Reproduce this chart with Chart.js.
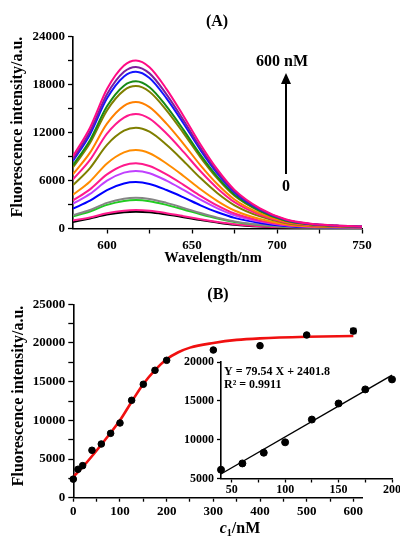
<!DOCTYPE html>
<html>
<head>
<meta charset="utf-8">
<script src="https://cdn.jsdelivr.net/npm/chart.js@4/dist/chart.umd.min.js"></script>
<style>
  html, body { margin: 0; padding: 0; background: #fff; overflow: hidden; width: 400px; height: 537px; }
  canvas { position: absolute; }
  #chartA { left: 0; top: 0; }
  #chartB { left: 0; top: 270px; }
  #inset { left: 140px; top: 340px; }
</style>
</head>
<body>
<canvas id="chartA" width="400" height="268"></canvas>
<canvas id="chartB" width="400" height="267"></canvas>
<canvas id="inset" width="270" height="160"></canvas>
<script>
/* ── DATA: panel A spectra ── */
const wavelengths = [580, 590, 600, 610, 617, 625, 635, 645, 655, 665, 675, 690, 705, 720, 735, 750];
const spec600 = [9030, 12600, 17430, 20370, 21000, 20160, 17430, 14070, 10500, 7350, 4830, 2520, 1160, 590, 380, 250];
const spec500 = [8690, 12120, 16770, 19590, 20200, 19390, 16770, 13530, 10100, 7070, 4650, 2420, 1110, 570, 360, 240];
const spec400 = [8430, 11760, 16270, 19010, 19600, 18820, 16270, 13130, 9800, 6860, 4510, 2350, 1080, 550, 350, 240];
const spec300 = [7910, 11040, 15270, 17850, 18400, 17660, 15270, 12330, 9200, 6440, 4230, 2210, 1010, 520, 330, 220];
const spec200 = [7650, 10680, 14770, 17270, 17800, 17090, 14770, 11930, 8900, 6230, 4090, 2140, 980, 500, 320, 210];
const spec175 = [6790, 9480, 13110, 15330, 15800, 15170, 13110, 10590, 7900, 5530, 3630, 1900, 870, 440, 280, 190];
const spec150 = [6150, 8580, 11870, 13870, 14300, 13730, 11870, 9580, 7150, 5010, 3290, 1720, 790, 400, 260, 170];
const spec125 = [5420, 7560, 10460, 12220, 12600, 12100, 10460, 8440, 6300, 4410, 2900, 1510, 690, 350, 230, 150];
const spec100 = [4210, 5880, 8130, 9510, 9800, 9410, 8130, 6570, 4900, 3430, 2250, 1180, 540, 270, 180, 120];
const spec80  = [3500, 4890, 6760, 7910, 8150, 7820, 6760, 5460, 4080, 2850, 1870, 980, 450, 230, 150, 100];
const spec60  = [3100, 4320, 5980, 6980, 7200, 6910, 5980, 4820, 3600, 2520, 1660, 860, 400, 200, 130, 90];
const spec40  = [2490, 3480, 4810, 5630, 5800, 5570, 4810, 3890, 2900, 2030, 1330, 700, 320, 160, 100, 70];
const spec20  = [1660, 2310, 3200, 3730, 3850, 3700, 3200, 2580, 1930, 1350, 890, 460, 210, 110, 70, 50];
const spec10  = [1530, 2130, 2950, 3440, 3550, 3410, 2950, 2380, 1780, 1240, 820, 430, 200, 100, 60, 40];
const spec5   = [990, 1380, 1910, 2230, 2300, 2210, 1910, 1540, 1150, 810, 530, 280, 130, 60, 40, 30];
const spec0   = [800, 1260, 1740, 2040, 2100, 2020, 1740, 1410, 1050, 740, 480, 250, 120, 60, 40, 30];
const spectra = [spec600, spec500, spec400, spec300, spec200, spec175, spec150, spec125,
                 spec100, spec80, spec60, spec40, spec20, spec10, spec5, spec0];
const specColors = ['#ff0a84', '#7a1f9e', '#1414ff', '#168a16', '#808000', '#ff8000', '#ff1a8c', '#7f7f00',
                    '#ff8c00', '#ff1a8c', '#c040ff', '#0000ff', '#858585', '#22cc22', '#ff1a8c', '#000000'];
const ticksAx = [600, 625, 650, 675, 700, 725, 750];
const labelsAx = [600, 650, 700, 750];
const ticksAy = [0, 3000, 6000, 9000, 12000, 15000, 18000, 21000, 24000];
const labelsAy = [0, 6000, 12000, 18000, 24000];

/* ── DATA: panel B ── */
const concB = [0, 10, 20, 40, 60, 80, 100, 125, 150, 175, 200, 300, 400, 500, 600];
const intenB = [2400, 3670, 4140, 6130, 6940, 8320, 9660, 12590, 14660, 16470, 17760, 19090, 19650, 21030, 21550];
const errB = [0, 0, 0, 0, 0, 0, 0, 0, 0, 0, 0, 0, 0, 0, 350];
const fitX = [0, 25, 50, 75, 100, 125, 150, 175, 200, 225, 250, 300, 350, 400, 500, 600];
const fitY = [2700, 4300, 6100, 8000, 10000, 12400, 14700, 16500, 17900, 18800, 19400, 20000, 20400, 20600, 20800, 20900];
const ticksBx = [0, 50, 100, 150, 200, 250, 300, 350, 400, 450, 500, 550, 600];
const labelsBx = [0, 100, 200, 300, 400, 500, 600];
const ticksBy = [0, 2500, 5000, 7500, 10000, 12500, 15000, 17500, 20000, 22500, 25000];
const labelsBy = [0, 5000, 10000, 15000, 20000, 25000];

/* ── DATA: inset ── */
const insetX = [40, 60, 80, 100, 125, 150, 175, 200];
const insetY = [6130, 6940, 8320, 9660, 12590, 14660, 16470, 17760];
const regX = [40, 200];
const regY = [5580, 18310];
const ticksIx = [50, 75, 100, 125, 150, 175, 200];
const labelsIx = [50, 100, 150, 200];
const ticksIy = [5000, 10000, 15000, 20000];
const labelsIy = [5000, 10000, 15000, 20000];

const SERIF = "'Liberation Serif', 'Times New Roman', serif";
const pts = (xs, ys) => xs.map((x, i) => ({ x: x, y: ys[i] }));

/* ── text / arrow / error bar plugin ── */
const notes = {
  id: 'notes',
  afterDatasetsDraw(chart, args, opts) {
    const ctx = chart.ctx;
    if (opts.errors) {
      const xs = chart.scales.x, ys = chart.scales.y;
      ctx.save();
      ctx.strokeStyle = '#000'; ctx.lineWidth = 1.3;
      opts.errors.x.forEach((xv, i) => {
        const e = opts.errors.e[i];
        if (!e) return;
        const px = xs.getPixelForValue(xv);
        const y1 = ys.getPixelForValue(opts.errors.y[i] + e), y2 = ys.getPixelForValue(opts.errors.y[i] - e);
        ctx.beginPath();
        ctx.moveTo(px, y1); ctx.lineTo(px, y2);
        ctx.moveTo(px - 3, y1); ctx.lineTo(px + 3, y1);
        ctx.moveTo(px - 3, y2); ctx.lineTo(px + 3, y2);
        ctx.stroke();
      });
      ctx.restore();
    }
  },
  afterDraw(chart, args, opts) {
    const ctx = chart.ctx;
    (opts.items || []).forEach(it => {
      ctx.save();
      ctx.fillStyle = '#000';
      ctx.textBaseline = 'middle';
      ctx.textAlign = it.align || 'center';
      ctx.translate(it.x, it.y);
      if (it.rot) ctx.rotate(it.rot);
      if (it.parts) {
        let total = 0;
        it.parts.forEach(p => { ctx.font = p.font; total += ctx.measureText(p.t).width; });
        let cx = -total / 2;
        ctx.textAlign = 'left';
        it.parts.forEach(p => { ctx.font = p.font; ctx.fillText(p.t, cx, p.dy || 0); cx += ctx.measureText(p.t).width; });
      } else {
        ctx.font = it.font;
        ctx.fillText(it.text, 0, 0);
      }
      ctx.restore();
    });
    if (opts.arrow) {
      const a = opts.arrow;
      ctx.save();
      ctx.strokeStyle = '#000'; ctx.fillStyle = '#000'; ctx.lineWidth = 2;
      ctx.beginPath(); ctx.moveTo(a.x, a.y1); ctx.lineTo(a.x, a.y2 + 8); ctx.stroke();
      ctx.beginPath(); ctx.moveTo(a.x, a.y2); ctx.lineTo(a.x - 5, a.y2 + 11); ctx.lineTo(a.x + 5, a.y2 + 11); ctx.closePath(); ctx.fill();
      ctx.restore();
    }
  }
};

function axis(min, max, tickVals, labelVals, o) {
  return {
    type: 'linear', min: min, max: max,
    afterBuildTicks: s => { s.ticks = tickVals.map(v => ({ value: v })); },
    afterFit: s => { if (o.width != null) s.width = o.width; if (o.height != null) s.height = o.height; },
    border: { display: true, color: '#000', width: 1.6 },
    grid: { drawOnChartArea: false, drawTicks: true, tickLength: o.tick || 5, tickColor: '#000', tickWidth: 1.3 },
    ticks: {
      autoSkip: false, maxRotation: 0, padding: o.pad, color: '#000',
      font: { family: SERIF, size: o.size || 13, weight: 'bold' },
      callback: v => labelVals.includes(v) ? String(v) : ''
    }
  };
}

const bold = s => 'bold ' + s + 'px ' + SERIF;

/* ── PANEL A ── */
new Chart(document.getElementById('chartA'), {
  type: 'line',
  data: {
    datasets: spectra.map((s, i) => ({
      data: pts(wavelengths, s),
      borderColor: specColors[i], borderWidth: 2, pointRadius: 0,
      cubicInterpolationMode: 'monotone', fill: false
    }))
  },
  options: {
    responsive: false, animation: false,
    layout: { padding: { top: 36.5, right: 38, left: 0, bottom: 0 } },
    plugins: {
      legend: { display: false }, tooltip: { enabled: false },
      notes: {
        items: [
          { text: '(A)', x: 217, y: 22, font: bold(16) },
          { text: 'Fluorescence intensity/a.u.', x: 18, y: 127, rot: -Math.PI / 2, font: bold(16) },
          { text: 'Wavelength/nm', x: 213, y: 258, font: bold(14.5) },
          { text: '600 nM', x: 282, y: 62, font: bold(16) },
          { text: '0', x: 286, y: 187, font: bold(16) }
        ],
        arrow: { x: 286, y1: 174, y2: 73 }
      }
    },
    scales: {
      x: axis(580, 750, ticksAx, labelsAx, { height: 39.5, pad: 4 }),
      y: axis(0, 24000, ticksAy, labelsAy, { width: 73, pad: 3 })
    }
  },
  plugins: [notes]
});

/* ── PANEL B ── */
new Chart(document.getElementById('chartB'), {
  type: 'scatter',
  data: {
    datasets: [
      { data: pts(concB, intenB), backgroundColor: '#000', borderColor: '#000', pointRadius: 3.3, showLine: false, clip: false },
      { data: pts(fitX, fitY), borderColor: '#f01010', borderWidth: 2.6, pointRadius: 0, showLine: true,
        cubicInterpolationMode: 'monotone' }
    ]
  },
  options: {
    responsive: false, animation: false,
    layout: { padding: { top: 34.3, right: 37.3, left: 0, bottom: 0 } },
    plugins: {
      legend: { display: false }, tooltip: { enabled: false },
      notes: {
        errors: { x: concB, y: intenB, e: errB },
        items: [
          { text: '(B)', x: 218, y: 25, font: bold(16) },
          { text: 'Fluorescence intensity/a.u.', x: 19, y: 126, rot: -Math.PI / 2, font: bold(16) },
          { x: 240, y: 259, parts: [
            { t: 'c', font: 'italic bold 16px ' + SERIF },
            { t: '1', font: bold(10), dy: 4 },
            { t: '/nM', font: bold(16) }
          ] }
        ]
      }
    },
    scales: {
      x: axis(0, 620, ticksBx, labelsBx, { height: 39.3, pad: 2, tick: 4 }),
      y: axis(0, 25000, ticksBy, labelsBy, { width: 73.3, pad: 3 })
    }
  },
  plugins: [notes]
});

/* ── INSET ── */
new Chart(document.getElementById('inset'), {
  type: 'scatter',
  data: {
    datasets: [
      { data: pts(insetX, insetY), backgroundColor: '#000', borderColor: '#000', pointRadius: 3.5, showLine: false, clip: false },
      { data: pts(regX, regY), borderColor: '#000', borderWidth: 1.3, pointRadius: 0, showLine: true }
    ]
  },
  options: {
    responsive: false, animation: false,
    layout: { padding: { top: 22, right: 18, left: 0, bottom: 0 } },
    plugins: {
      legend: { display: false }, tooltip: { enabled: false },
      notes: {
        items: [
          { text: 'Y = 79.54 X + 2401.8', x: 84, y: 31.5, align: 'left', font: bold(12) },
          { text: 'R\u00B2 = 0.9911', x: 84, y: 45, align: 'left', font: bold(12) }
        ]
      }
    },
    scales: {
      x: axis(40, 200, ticksIx, labelsIx, { height: 21.5, pad: 0, tick: 4, size: 12 }),
      y: axis(5000, 20000, ticksIy, labelsIy, { width: 81, pad: 3, tick: 4, size: 12 })
    }
  },
  plugins: [notes]
});
</script>
</body>
</html>
